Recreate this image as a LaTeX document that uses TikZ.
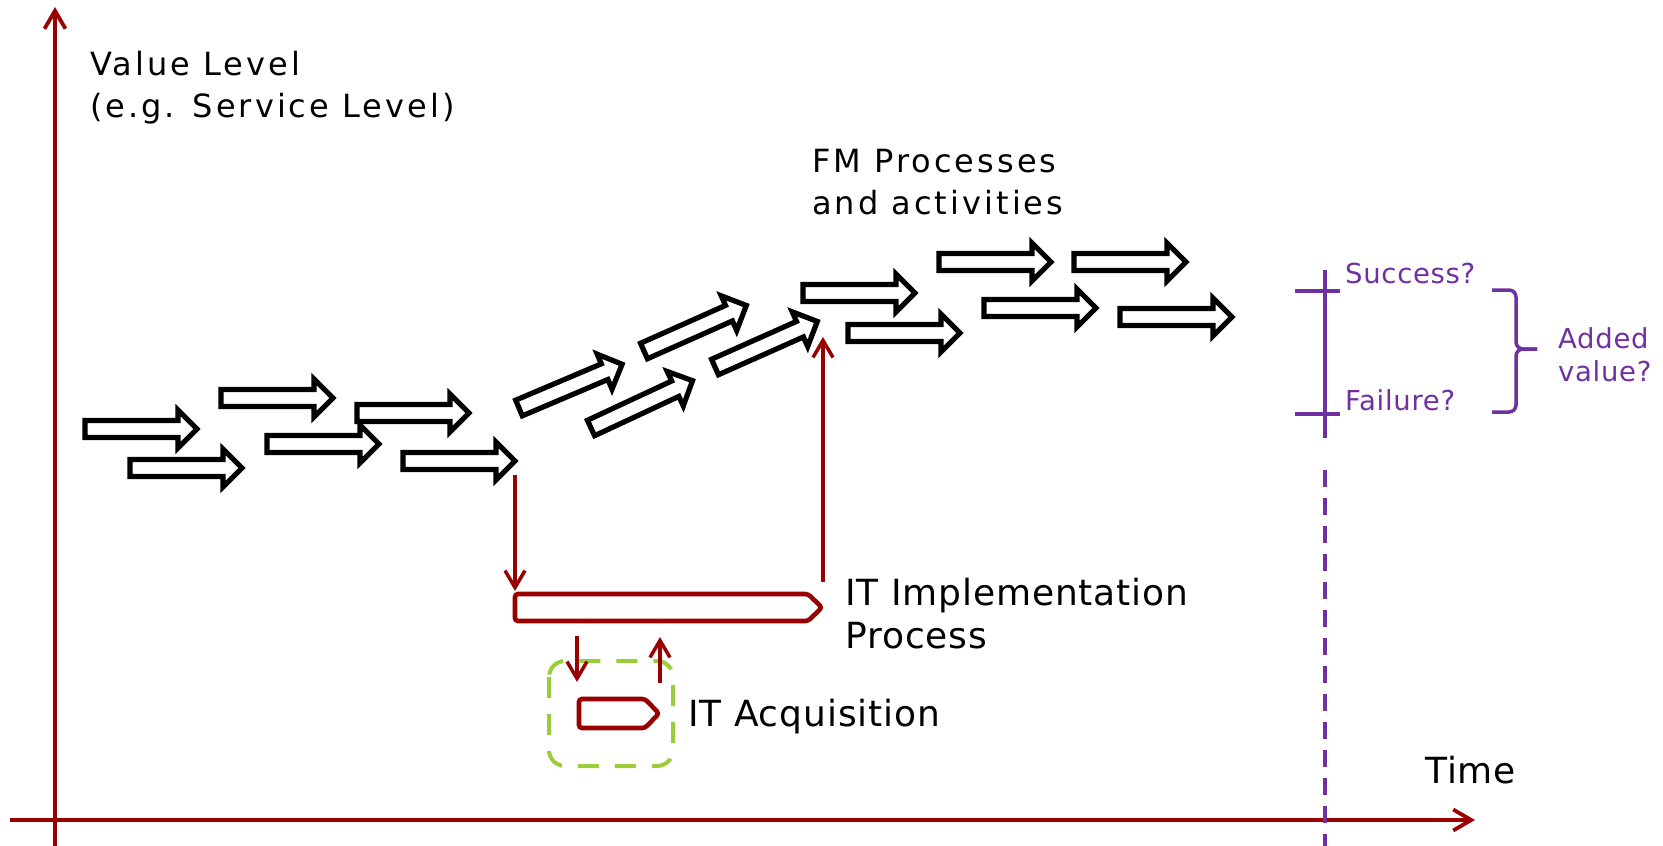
\documentclass[tikz,border=0pt]{standalone}
\usepackage{fontspec}
\setmainfont{DejaVu Sans}
\newfontfamily\trackedfont[LetterSpace=9.5]{DejaVu Sans}
\newfontfamily\widefont[LetterSpace=2.5]{DejaVu Sans}
\usetikzlibrary{arrows.meta}

\definecolor{axisred}{RGB}{153,0,0}
\definecolor{boxgreen}{RGB}{154,204,60}
\definecolor{valueviolet}{RGB}{112,48,160}

\tikzset{
  pics/flowarrow/.style={code={
    \draw[flow] (0,-8.5) -- (93,-8.5) -- (93,-19) -- (112,0) -- (93,19) -- (93,8.5) -- (0,8.5) -- cycle;
    \coordinate (-tip) at (112,0);
  }},
}

\begin{document}
\begin{tikzpicture}[x=1pt,y=-1pt,
  flow/.style={draw=black,fill=white,line width=5.2pt,line join=miter},
  axis/.style={axisred,line width=3.8pt,-{Straight Barb[length=18pt,width=21pt]}},
  link/.style={axisred,line width=3.5pt,-{Straight Barb[length=17pt,width=20pt]}},
  proc/.style={draw=axisred,line width=4.6pt,rounded corners=3pt},
  gauge/.style={valueviolet,line width=3.5pt},
  txt/.style={inner sep=0pt,anchor=base west,align=left},
  big/.style={txt,font=\widefont\fontsize{36}{43}\selectfont},
  small/.style={txt,text=valueviolet,font=\widefont\fontsize{27.5}{33}\selectfont},
  ]
  \useasboundingbox (0,0) rectangle (1663,846);

  % axes (multi-line nodes sit on their last baseline)
  \draw[axis] (55,846) -- (55,7);
  \draw[axis] (10,820) -- (1475,820);
  \node[txt,font=\trackedfont\fontsize{32}{42}\selectfont] (vlabel) at (90,117) {Value Level\\(e.g. Service Level)};
  \node[big] (tlabel) at (1425,783) {Time};

  % FM processes, left to right
  \pic (a1) at (85,429) {flowarrow};
  \pic (a2) at (130,468) {flowarrow};
  \pic (a3) at (221,398) {flowarrow};
  \pic (a4) at (267,444) {flowarrow};
  \pic (a5) at (357,413) {flowarrow};
  \pic (a6) at (403,461) {flowarrow};
  \pic[rotate=23] (a7) at (519,408) {flowarrow};
  \pic[rotate=25] (a8) at (591,428) {flowarrow};
  \pic[rotate=24] (a9) at (644,351) {flowarrow};
  \pic[rotate=24] (a10) at (715,367) {flowarrow};
  \pic (a11) at (803,293) {flowarrow};
  \pic (a12) at (848,333) {flowarrow};
  \pic (a13) at (939,262) {flowarrow};
  \pic (a14) at (984,308) {flowarrow};
  \pic (a15) at (1074,262) {flowarrow};
  \pic (a16) at (1120,317) {flowarrow};
  \node[txt,font=\trackedfont\fontsize{32}{42}\selectfont] (fmlabel) at (812,214) {FM Processes\\and activities};

  % IT implementation and acquisition
  \draw[boxgreen,line width=4pt,dash pattern=on 21pt off 16pt,rounded corners=16pt] (549,661) rectangle (673,766);
  \draw[proc] (515,594) -- (808,594) -- (822,607.5) -- (808,621) -- (515,621) -- cycle;
  \draw[proc] (579,699) -- (645,699) -- (659,713.5) -- (645,728) -- (579,728) -- cycle;
  \node[big] (impl) at (845,648) {IT Implementation\\Process};
  \node[big] (acq) at (688,726) {IT Acquisition};

  \coordinate (fmout) at (515,475);
  \coordinate (implin) at (515,591);
  \coordinate (implout) at (823,582);
  \coordinate (fmin) at (823,337);
  \coordinate (implstart) at (577,636);
  \coordinate (acqin) at (577,682);
  \coordinate (acqout) at (660,683);
  \coordinate (implback) at (660,637);
  \draw[link] (fmout) -- (implin);
  \draw[link] (implout) -- (fmin);
  \draw[link] (implstart) -- (acqin);
  \draw[link] (acqout) -- (implback);

  % outcome scale
  \draw[gauge] (1325,270) -- (1325,438);
  \draw[gauge,dash pattern=on 17pt off 11pt] (1325,470) -- (1325,846);
  \draw[gauge] (1295,291) -- (1340,291) (1295,414) -- (1340,414);
  \draw[gauge,rounded corners=7pt] (1492,290) -- (1516,290) -- (1516,349) -- (1537,349);
  \draw[gauge,rounded corners=7pt] (1537,349) -- (1516,349) -- (1516,412) -- (1492,412);
  \node[small] (succ) at (1345,283) {Success?};
  \node[small] (fail) at (1345,410) {Failure?};
  \node[small] (added) at (1558,381) {Added\\value?};
\end{tikzpicture}
\end{document}
